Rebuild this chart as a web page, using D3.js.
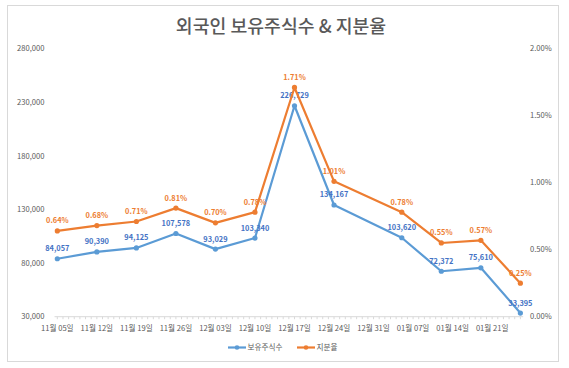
<!DOCTYPE html>
<html><head><meta charset="utf-8">
<script src="https://cdn.jsdelivr.net/npm/d3@7"></script>
<style>body{margin:0;background:#fff;font-family:"Noto Sans CJK KR","Noto Sans",sans-serif;}</style>
</head><body><svg id="c" width="569" height="368"></svg>
<script>
const title = "외국인 보유주식수 & 지분율";
const dates = ["2023-11-05","2023-11-12","2023-11-19","2023-11-26","2023-12-03","2023-12-10","2023-12-17","2023-12-24","2024-01-05","2024-01-12","2024-01-19","2024-01-26"];
const shares = [84057, 90390, 94125, 107578, 93029, 103340, 226729, 134167, 103620, 72372, 75610, 33395];
const ratio = [0.64, 0.68, 0.71, 0.81, 0.70, 0.78, 1.71, 1.01, 0.78, 0.55, 0.57, 0.25];
const tickDates = ["2023-11-05","2023-11-12","2023-11-19","2023-11-26","2023-12-03","2023-12-10","2023-12-17","2023-12-24","2023-12-31","2024-01-07","2024-01-14","2024-01-21"];
const leftTicks = [30000, 80000, 130000, 180000, 230000, 280000];
const rightTicks = [0, 0.5, 1.0, 1.5, 2.0];
const seriesNames = ["보유주식수", "지분율"];

const svg = d3.select("#c");
const blue = "#5B9BD5", orange = "#ED7D31", labBlue = "#4472C4", grey = "#595959";
const parse = d3.utcParse("%Y-%m-%d");
const D = dates.map(parse);
const day = 864e5;
const L = 54.5, R = 523.2, T = 48.6, B = 316.7;

svg.append("rect").attr("x", 7.5).attr("y", 5.5).attr("width", 551).attr("height", 356)
  .attr("fill", "#fff").attr("stroke", "#d9d9d9");

svg.append("text").attr("x", 281).attr("y", 32.5).attr("text-anchor", "middle")
  .attr("font-size", 18.3).attr("font-weight", 500).attr("fill", grey).text(title);

const x = d3.scaleUtc().domain([new Date(+D[0] - day/2), new Date(+D[D.length-1] + day/2)]).range([L, R]);
const yL = d3.scaleLinear().domain([30000, 280000]).range([B, T]);
const yR = d3.scaleLinear().domain([0, 2]).range([B, T]);

// x axis with daily minor ticks
const ax = svg.append("g").attr("transform", `translate(0,${B})`);
ax.append("line").attr("x1", L).attr("x2", R).attr("stroke", "#d9d9d9");
const days = d3.utcDay.range(new Date(+D[0] - day/2), new Date(+D[D.length-1] + day));
ax.selectAll("line.t").data(days).join("line").attr("class","t")
  .attr("x1", d => x(d)).attr("x2", d => x(d)).attr("y1", 0).attr("y2", 2.5).attr("stroke", "#d9d9d9");
const fmt = d3.utcFormat("%m월 %d일");
ax.selectAll("text").data(tickDates.map(parse)).join("text")
  .attr("x", d => x(d)).attr("y", 14).attr("text-anchor", "middle")
  .attr("font-size", 7.6).attr("fill", grey).text(d => fmt(d));

// left axis labels
svg.append("g").selectAll("text").data(leftTicks).join("text")
  .attr("x", 44.5).attr("y", d => yL(d) + 2.7).attr("text-anchor", "end")
  .attr("font-size", 7.6).attr("fill", grey).text(d => d3.format(",")(d));
// right axis labels
svg.append("g").selectAll("text").data(rightTicks).join("text")
  .attr("x", 530).attr("y", d => yR(d) + 2.7).attr("text-anchor", "start")
  .attr("font-size", 7.6).attr("fill", grey).text(d => d3.format(".2f")(d) + "%");

function series(vals, y, color, labColor, fmtv) {
  const g = svg.append("g");
  const line = d3.line().x((d,i) => x(D[i])).y(d => y(d));
  g.append("path").datum(vals).attr("d", line).attr("fill", "none")
    .attr("stroke", color).attr("stroke-width", 2.2).attr("stroke-linejoin", "round");
  g.selectAll("circle").data(vals).join("circle")
    .attr("cx", (d,i) => x(D[i])).attr("cy", d => y(d)).attr("r", 2.6).attr("fill", color);
  g.selectAll("text").data(vals).join("text")
    .attr("x", (d,i) => x(D[i])).attr("y", d => y(d) - 7.5).attr("text-anchor", "middle")
    .attr("font-size", 7.4).attr("font-weight", "bold").attr("fill", labColor).text(fmtv);
}
series(shares, yL, blue, labBlue, d => d3.format(",")(d));
series(ratio, yR, orange, orange, d => d3.format(".2f")(d) + "%");

// legend
const leg = svg.append("g").attr("transform", "translate(0,347.5)");
[[228, blue, seriesNames[0]], [297, orange, seriesNames[1]]].forEach(([lx, c, n]) => {
  leg.append("line").attr("x1", lx).attr("x2", lx + 18).attr("stroke", c).attr("stroke-width", 2.2);
  leg.append("circle").attr("cx", lx + 9).attr("r", 2.3).attr("fill", c);
  leg.append("text").attr("x", lx + 19.5).attr("y", 2.7).attr("font-size", 7.6).attr("fill", grey).text(n);
});
</script></body></html>
